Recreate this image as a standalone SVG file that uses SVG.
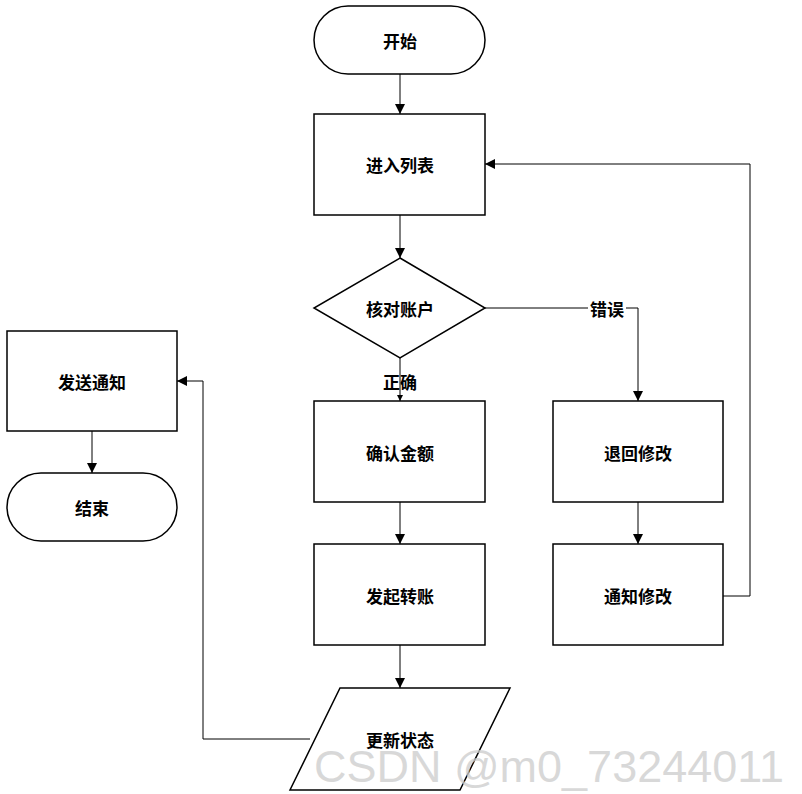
<svg xmlns="http://www.w3.org/2000/svg" width="802" height="794" viewBox="0 0 802 794">
<style>
.n{fill:#fff;stroke:#000;stroke-width:1.5}
.t{font-family:"Noto Sans CJK SC","Liberation Sans",sans-serif;font-size:17px;font-weight:bold;text-anchor:middle;dominant-baseline:central}
.c{fill:none;stroke:#000;stroke-width:1}
</style>
<defs><marker id="a" viewBox="0 0 10 10" refX="10" refY="5" markerWidth="10" markerHeight="10" markerUnits="userSpaceOnUse" orient="auto"><path d="M0,0L10,5L0,10z"/></marker>
<marker id="s" viewBox="0 0 10 10" refX="10" refY="5" markerWidth="6" markerHeight="6" markerUnits="userSpaceOnUse" orient="auto"><path d="M0,0L10,5L0,10z"/></marker></defs>
<rect width="802" height="794" fill="#fff"/>
<g id="connectors">
<path class="c" d="M400,74V114" marker-end="url(#a)"/>
<path class="c" d="M400,215V258" marker-end="url(#a)"/>
<path class="c" d="M400,358V401" marker-end="url(#s)"/>
<path class="c" d="M400,502V544" marker-end="url(#a)"/>
<path class="c" d="M400,645V688" marker-end="url(#a)"/>
<path class="c" d="M485,308H638V401" marker-end="url(#a)"/>
<path class="c" d="M638,502V544" marker-end="url(#a)"/>
<path class="c" d="M723,596H750V164H485" marker-end="url(#a)"/>
<path class="c" d="M310,739H203V381H177" marker-end="url(#a)"/>
<path class="c" d="M92,431V473" marker-end="url(#a)"/>
<text class="t" x="400" y="381" font-size="16">正确</text>
<rect x="588" y="298" width="38" height="20" fill="#fff"/>
<text class="t" x="607" y="308">错误</text>
</g>
<g id="start"><rect class="n" x="314" y="6" width="171" height="68" rx="34"/><text class="t" x="400" y="40">开始</text></g>
<g id="list"><rect class="n" x="314" y="114" width="171" height="101"/><text class="t" x="400" y="164">进入列表</text></g>
<g id="check"><path class="n" d="M400,258L485,308L400,358L314,308Z"/><text class="t" x="400" y="308">核对账户</text></g>
<g id="confirm"><rect class="n" x="314" y="401" width="171" height="101"/><text class="t" x="400" y="452">确认金额</text></g>
<g id="transfer"><rect class="n" x="314" y="544" width="171" height="101"/><text class="t" x="400" y="595">发起转账</text></g>
<g id="update"><path class="n" d="M340,688H510L460,790H290Z"/><text class="t" x="400" y="739">更新状态</text></g>
<g id="back"><rect class="n" x="553" y="401" width="170" height="101"/><text class="t" x="638" y="452">退回修改</text></g>
<g id="notifyfix"><rect class="n" x="553" y="544" width="170" height="101"/><text class="t" x="638" y="595">通知修改</text></g>
<g id="send"><rect class="n" x="7" y="331" width="170" height="100"/><text class="t" x="92" y="381">发送通知</text></g>
<g id="end"><rect class="n" x="7" y="473" width="170" height="68" rx="34"/><text class="t" x="92" y="507">结束</text></g>
<text x="784" y="782" font-family="Liberation Sans,sans-serif" font-size="45" fill="#ccc" fill-opacity="0.75" text-anchor="end">CSDN @m0_73244011</text>
</svg>
